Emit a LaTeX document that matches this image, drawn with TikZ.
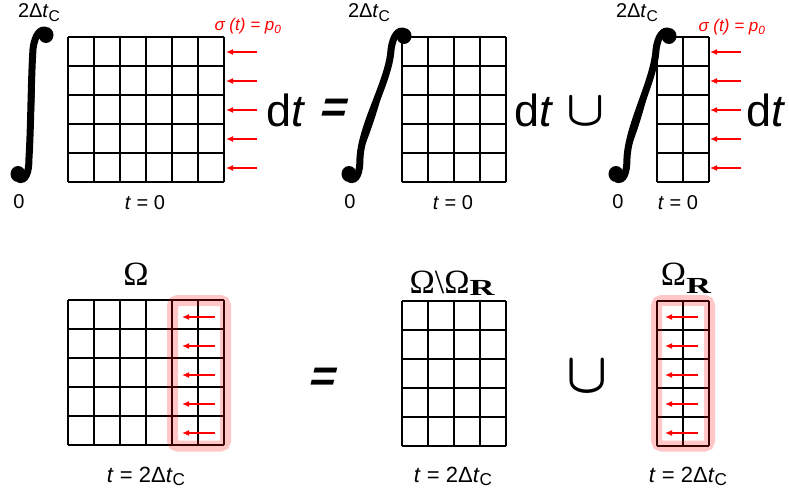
\documentclass[tikz,border=0pt]{standalone}
\usepackage{fontspec}
\setmainfont{Liberation Sans}
\newfontfamily\omegafont{Liberation Serif}
\usetikzlibrary{arrows.meta,calc}
\definecolor{loadred}{RGB}{255,0,0}

% subscripted time step and region index
\newcommand{\tC}{\textit{t}\raisebox{-0.3ex}{\scalebox{0.78}{C}}}
\newcommand{\Rsub}[1]{\raisebox{#1}{\scalebox{1.5}[1]{\fontsize{23}{23}\selectfont\bfseries R}}}

% integral sign: bottom blob, top blob
\newcommand{\intsign}[2]{%
  \draw[intstroke] ($(#1)+(0,5)$) .. controls ($(#1)+(8,8)$) and ($(#1)+(11,-2)$) .. ($(#1)+(11,-16)$)
    .. controls ($(#1)+(13,-50)$) and ($(#2)+(-15,45)$) .. ($(#2)+(-13,14)$)
    .. controls ($(#2)+(-11,-2)$) and ($(#2)+(-5,-6)$) .. ($(#2)+(0,-5)$);
  \fill ($(#1)+(11,-16)$) .. controls ($(#1)+(13,-50)$) and ($(#2)+(-15,45)$) .. ($(#2)+(-13,14)$)
    to[bend left=6] ($(#1)+(11,-16)$);
  \fill (#1) ellipse (7.5pt and 8pt);
  \fill (#2) ellipse (7.5pt and 8pt);
}

\tikzset{
  cellline/.style={black,line width=1.4pt},
  loadarrow/.style={loadred,line width=2.1pt,-{Latex[length=7pt,width=6pt]}},
  regionmark/.style={red,opacity=0.22,line width=11pt,rounded corners=5pt},
  intstroke/.style={line width=7pt},
  lbl/.style={anchor=base,inner sep=0pt,font=\fontsize{20}{24}\selectfont},
  endlbl/.style={anchor=base,inner sep=0pt,font=\fontsize{22}{26}\selectfont},
  loadlbl/.style={anchor=base,inner sep=0pt,loadred,font=\fontsize{17}{20}\selectfont\itshape},
  bigtxt/.style={anchor=base,inner sep=0pt,font=\fontsize{45}{50}\selectfont},
  eqsign/.style={anchor=base,inner sep=0pt,xslant=0.25,transform shape,font=\fontsize{45}{50}\selectfont\bfseries},
  cupsign/.style={anchor=base,inner sep=0pt,font=\boldmath},
  omegalbl/.style={anchor=base,inner sep=0pt,font=\fontsize{34}{38}\selectfont\omegafont}
}

\begin{document}
\begin{tikzpicture}[x=1pt,y=-1pt]
  \useasboundingbox (0,0) rectangle (789,492);

  % Top row: integral over time
  \draw[cellline,xstep=26pt,ystep=29pt,shift={(68,37)}] (0,145) grid (156,0);
  \draw[cellline,xstep=26pt,ystep=29pt,shift={(402,37)}] (0,145) grid (104,0);
  \draw[cellline,xstep=26pt,ystep=29pt,shift={(657,37)}] (0,145) grid (52,0);

  \intsign{18,174}{46,35}
  \intsign{349,174}{404,36}
  \intsign{616,174}{669,36}

  \foreach \r in {0,...,4} {
    \draw[loadarrow] (257,{52+29*\r}) -- (226,{52+29*\r});
    \draw[loadarrow] (741,{52+29*\r}) -- (710,{52+29*\r});
  }

  \node[lbl] (upperL) at (39,18) {2Δ\tC};
  \node[lbl] (upperM) at (369,18) {2Δ\tC};
  \node[lbl] (upperR) at (637,18) {2Δ\tC};
  \node[lbl] (lowerL) at (19,208) {0};
  \node[lbl] (lowerM) at (350,208) {0};
  \node[lbl] (lowerR) at (618,208) {0};
  \node[lbl] (tzeroL) at (145,209) {\textit{t} = 0};
  \node[lbl] (tzeroM) at (453,209) {\textit{t} = 0};
  \node[lbl] (tzeroR) at (678,209) {\textit{t} = 0};
  \node[loadlbl] (sigmaL) at (248,31) {σ (t) = p\textsubscript{0}};
  \node[loadlbl] (sigmaR) at (732,32) {σ (t) = p\textsubscript{0}};

  \node[bigtxt] (dtL) at (286,127) {d\textit{t}};
  \node[eqsign] (eqTop) at (332,123) {=};
  \node[bigtxt] (dtM) at (534,127) {d\textit{t}};
  \node[cupsign] (cupTop) at (586,125) {\scalebox{5}{$\cup$}};
  \node[bigtxt] (dtR) at (766,127) {d\textit{t}};

  % Bottom row: split of the domain
  \draw[cellline,xstep=26pt,ystep=29pt,shift={(68,300)}] (0,145) grid (156,0);
  \draw[cellline,xstep=26pt,ystep=29pt,shift={(402,301)}] (0,145) grid (104,0);
  \draw[cellline,xstep=26pt,ystep=29pt,shift={(657,301)}] (0,145) grid (52,0);

  \draw[regionmark] (172.5,300.5) rectangle (225.5,446);
  \draw[regionmark] (656.5,300.5) rectangle (709.5,446);

  \foreach \r in {0,...,4} {
    \draw[loadarrow] (215,{317+29*\r}) -- (182,{317+29*\r});
    \draw[loadarrow] (698,{317+29*\r}) -- (665,{317+29*\r});
  }

  \node[omegalbl] (omegaL) at (136,285) {Ω};
  \node[omegalbl] (omegaM) at (452,293) {Ω\textbackslash Ω\Rsub{-2pt}};
  \node[omegalbl] (omegaR) at (686,285) {Ω\Rsub{-8pt}};

  \node[eqsign] (eqBot) at (321,391) {=};
  \node[cupsign] (cupBot) at (587,392) {\scalebox{5.4}[5.7]{$\cup$}};

  \node[endlbl] (tendL) at (146,482) {\textit{t} = 2Δ\tC};
  \node[endlbl] (tendM) at (453,482) {\textit{t} = 2Δ\tC};
  \node[endlbl] (tendR) at (688,482) {\textit{t} = 2Δ\tC};
\end{tikzpicture}
\end{document}
